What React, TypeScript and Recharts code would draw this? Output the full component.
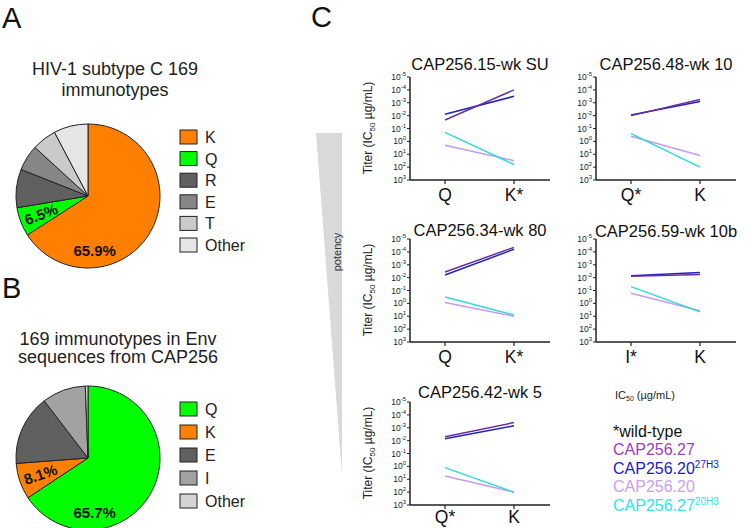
import React from 'react';
import { PieChart, Pie, Cell, LineChart, Line, XAxis, YAxis } from 'recharts';

const FONT = '"Liberation Sans", Arial, Helvetica, sans-serif';

// A: HIV-1 subtype C, residue 169 immunotypes (% of sequences)
const subtypeCLabels = ['K', 'Q', 'R', 'E', 'T', 'Other'];
const subtypeCShares = [65.9, 6.5, 8.6, 5.8, 5.5, 7.7];
const subtypeCColors = ['#ff8000', '#00ff00', '#606060', '#868686', '#cacaca', '#e6e6e6'];

// B: residue 169 immunotypes in CAP256 Env sequences
const cap256Labels = ['Q', 'K', 'E', 'I', 'Other'];
const cap256Shares = [65.7, 8.1, 15.8, 9.8, 0.6];
const cap256Colors = ['#00ff00', '#ff8000', '#606060', '#a2a2a2', '#d4d4d4'];

// C: IC50 titers, stored as log10 exponents (10^x ug/mL)
const panelTitles = ['CAP256.15-wk SU', 'CAP256.48-wk 10', 'CAP256.34-wk 80', 'CAP256.59-wk 10b', 'CAP256.42-wk 5'];
const panelCategories = [['Q', 'K*'], ['Q*', 'K'], ['Q', 'K*'], ['I*', 'K'], ['Q*', 'K']];
const titer27 = [[-1.66, -4.0], [-2.0, -3.25], [-2.44, -4.35], [-2.1, -2.25], [-2.3, -3.4]];
const titer20h = [[-2.1, -3.5], [-2.05, -3.1], [-2.2, -4.2], [-2.15, -2.4], [-2.15, -3.15]];
const titer20 = [[0.3, 1.5], [-0.4, 1.1], [-0.07, 1.0], [-0.79, 0.58], [0.75, 2.0]];
const titer27h = [[-0.7, 1.8], [-0.6, 2.0], [-0.5, 0.9], [-1.3, 0.66], [0.1, 2.0]];
const yTicks = [-5, -4, -3, -2, -1, 0, 1, 2, 3];

const seriesNames = ['CAP256.27', 'CAP256.20', 'CAP256.20', 'CAP256.27'];
const seriesSups = ['', '27H3', '', '20H3'];
const legendColors = ['#9b3fc4', '#1a1acd', '#c9a0f0', '#2ee6e6'];
const lineColors = { s27: '#6a2d9f', s20h: '#2323b8', s20: '#c69aee', s27h: '#30d8dd' };

// plot-area top-left of each small chart
const chartSpots = [
  { x: 410, y: 77, title: 70, gap: 5 },
  { x: 596, y: 77, title: 70, gap: 5 },
  { x: 410, y: 239, title: 236, gap: 5 },
  { x: 596, y: 239, title: 237, gap: 5 },
  { x: 410, y: 402, title: 398, gap: 2 },
];

const PieLabel = (props: any) => {
  const { cx, cy, midAngle, outerRadius, index, value } = props;
  if (index > 1) return null;
  const RAD = Math.PI / 180;
  const angle = index === 0 ? -83 : midAngle;
  const r = outerRadius * (index === 0 ? 0.76 : 0.7);
  const x = cx + r * Math.cos(-angle * RAD);
  const y = cy + r * Math.sin(-angle * RAD);
  const rot = index === 0 ? 0 : -((((midAngle + 180) % 360) + 540) % 360 - 180);
  return (
    <text x={x} y={y} transform={`rotate(${rot} ${x} ${y})`} textAnchor="middle" dominantBaseline="central"
      fontSize={15} fontWeight="bold" fill="#111" fontFamily={FONT}>
      {value}%
    </text>
  );
};

function ShareChart({ labels, shares, colors, left, top }: any) {
  const data = labels.map((name: string, i: number) => ({ name, value: shares[i] }));
  return (
    <div style={{ position: 'absolute', left, top }}>
      <PieChart width={170} height={170}>
        <Pie data={data} dataKey="value" cx={85} cy={85} outerRadius={72} startAngle={90} endAngle={-270}
          stroke="#222" strokeWidth={1} label={PieLabel} labelLine={false} isAnimationActive={false}>
          {data.map((d: any, i: number) => <Cell key={d.name} fill={colors[i]} />)}
        </Pie>
      </PieChart>
    </div>
  );
}

const YTick = (props: any) => {
  const { x, y, payload } = props;
  return (
    <text x={x} y={y} textAnchor="end" fontSize={8.5} fill="#222" fontFamily={FONT} dy={3}>
      10<tspan fontSize={6} dy={-4}>{payload.value}</tspan>
    </text>
  );
};

function TiterChart({ p }: { p: number }) {
  const rows = panelCategories[p].map((cat, i) => ({
    cat,
    s27: titer27[p][i],
    s20h: titer20h[p][i],
    s20: titer20[p][i],
    s27h: titer27h[p][i],
  }));
  const spot = chartSpots[p];
  return (
    <div style={{ position: 'absolute', left: spot.x - 50, top: spot.y - 6 }}>
      <LineChart width={200} height={140} data={rows} margin={{ top: 6, right: 10, bottom: 0, left: 0 }}>
        <XAxis dataKey="cat" padding={{ left: 35, right: 36 }} height={31} tickSize={4} tickMargin={spot.gap} interval={0}
          tick={{ fontSize: 17.5, fill: '#111', fontFamily: FONT }}
          axisLine={{ stroke: '#222', strokeWidth: 1.5 }} tickLine={{ stroke: '#222', strokeWidth: 1.2 }} />
        <YAxis width={50} type="number" domain={[-5, 3]} ticks={yTicks} reversed allowDataOverflow interval={0}
          tickSize={3} tickMargin={1} tick={<YTick />}
          axisLine={{ stroke: '#222', strokeWidth: 1.5 }} tickLine={{ stroke: '#222', strokeWidth: 1 }} />
        <Line dataKey="s20" stroke={lineColors.s20} strokeWidth={1.5} dot={false} isAnimationActive={false} />
        <Line dataKey="s27h" stroke={lineColors.s27h} strokeWidth={1.5} dot={false} isAnimationActive={false} />
        <Line dataKey="s20h" stroke={lineColors.s20h} strokeWidth={1.5} dot={false} isAnimationActive={false} />
        <Line dataKey="s27" stroke={lineColors.s27} strokeWidth={1.5} dot={false} isAnimationActive={false} />
      </LineChart>
    </div>
  );
}

function Overlay() {
  return (
    <svg width={749} height={528} style={{ position: 'absolute', left: 0, top: 0 }} fontFamily={FONT}>
      <text x={2} y={28} fontSize={29} fill="#111">A</text>
      <text x={2} y={298} fontSize={29} fill="#111">B</text>
      <text x={311} y={27} fontSize={29} fill="#111">C</text>

      <text x={115} y={75} fontSize={18} textAnchor="middle" fill="#222">HIV-1 subtype C 169</text>
      <text x={115} y={96} fontSize={18} textAnchor="middle" fill="#222">immunotypes</text>
      <text x={118} y={345} fontSize={18} textAnchor="middle" fill="#222">169 immunotypes in Env</text>
      <text x={118} y={363} fontSize={18} textAnchor="middle" fill="#222">sequences from CAP256</text>

      {subtypeCLabels.map((l, i) => (
        <g key={'a' + l}>
          <rect x={180} y={137 + i * 21.6 - 7} width={17} height={14} fill={subtypeCColors[i]} stroke="#222" />
          <text x={205} y={137 + i * 21.6 + 6} fontSize={16} fill="#222">{l}</text>
        </g>
      ))}
      {cap256Labels.map((l, i) => (
        <g key={'b' + l}>
          <rect x={180} y={409 + i * 23 - 7} width={17} height={14} fill={cap256Colors[i]} stroke="#222" />
          <text x={205} y={409 + i * 23 + 6} fontSize={16} fill="#222">{l}</text>
        </g>
      ))}

      <polygon points="316,133 342,133 342,475" fill="#d9d9d9" />
      <text transform="translate(341 252) rotate(-90)" fontSize={11} textAnchor="middle" fill="#333">potency</text>

      {[0, 2, 4].map((p) => (
        <text key={'yl' + p} transform={`translate(372 ${chartSpots[p].y + 51}) rotate(-90)`} fontSize={12}
          textAnchor="middle" fill="#222">
          Titer (IC<tspan fontSize={8} dy={3}>50</tspan><tspan dy={-3}> µg/mL)</tspan>
        </text>
      ))}

      {panelTitles.map((t, p) => (
        <text key={t} x={chartSpots[p].x + 70} y={chartSpots[p].title} fontSize={16.5} textAnchor="middle" fill="#111">{t}</text>
      ))}

      <text x={615} y={399} fontSize={11} fill="#222">
        IC<tspan fontSize={7} dy={2}>50</tspan><tspan dy={-2}>  (µg/mL)</tspan>
      </text>
      <text x={613} y={437} fontSize={16} fill="#111">*wild-type</text>
      {seriesNames.map((n, i) => (
        <text key={'lg' + i} x={613} y={455 + i * 18.7} fontSize={16} fill={legendColors[i]}>
          {n}
          {seriesSups[i] ? <tspan fontSize={10} dy={-6}>{seriesSups[i]}</tspan> : null}
        </text>
      ))}
    </svg>
  );
}

export default function App() {
  return (
    <div style={{ position: 'absolute', left: 0, top: 0, width: 749, height: 528, overflow: 'hidden', background: '#fff', fontFamily: FONT }}>
      <Overlay />
      <ShareChart labels={subtypeCLabels} shares={subtypeCShares} colors={subtypeCColors} left={-2} top={106} />
      <ShareChart labels={cap256Labels} shares={cap256Shares} colors={cap256Colors} left={-2} top={368} />
      {panelTitles.map((t, p) => <TiterChart key={t} p={p} />)}
    </div>
  );
}
